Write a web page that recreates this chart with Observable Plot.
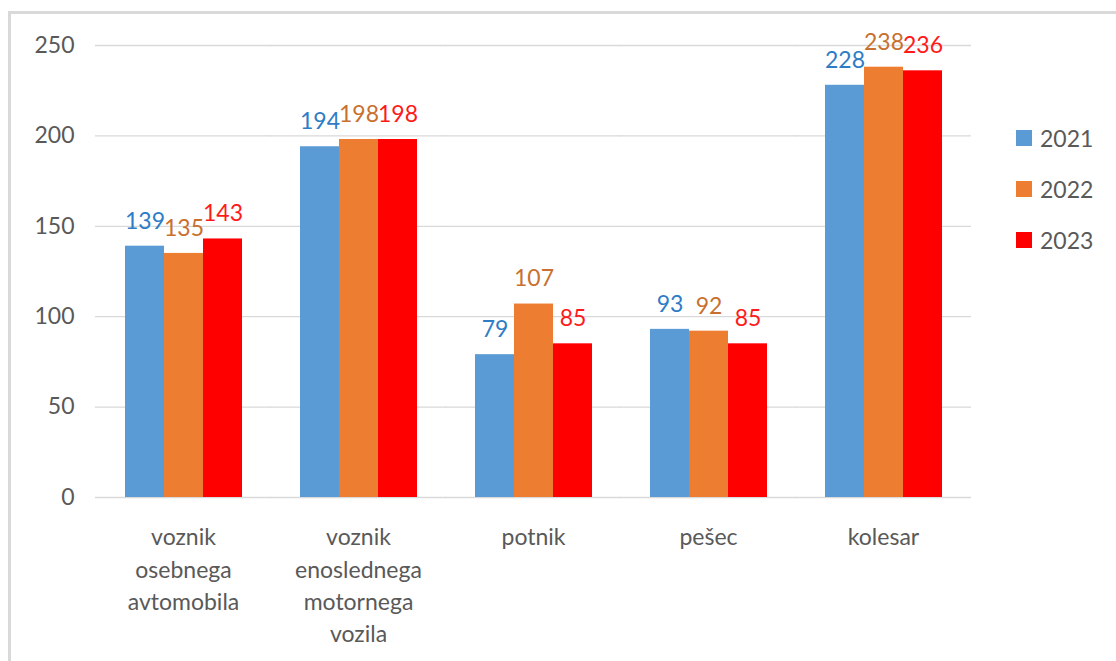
<!DOCTYPE html>
<html>
<head>
<meta charset="utf-8">
<script src="https://cdn.jsdelivr.net/npm/d3@7"></script>
<script src="https://cdn.jsdelivr.net/npm/@observablehq/plot@0.6"></script>
<style>
  html, body { margin: 0; padding: 0; background: #fff; }
  #wrap { position: relative; width: 1116px; height: 661px; overflow: hidden; font-family: Lato, sans-serif; }
  #border { position: absolute; left: 8px; top: 11px; width: 1200px; height: 700px;
            border-top: 3px solid #d9d9d9; border-left: 3px solid #d9d9d9; }
  #chart { position: absolute; left: 0; top: 0; }
  #legend { position: absolute; left: 1016px; top: 126px; }
  .item { display: flex; align-items: center; height: 51px; margin-top: 0; color: #595959; font-size: 23px; }
  .item span.sw { display: inline-block; width: 16px; height: 16px; margin-right: 8px; }
  .item { position: relative; top: -14px; }
</style>
</head>
<body>
<div id="wrap">
  <div id="border"></div>
  <div id="chart"></div>
  <div id="legend"></div>
</div>
<script>
const categories = ["voznik osebnega avtomobila", "voznik enoslednega motornega vozila", "potnik", "pešec", "kolesar"];
const categoryLabels = ["voznik\nosebnega\navtomobila", "voznik\nenoslednega\nmotornega\nvozila", "potnik", "pešec", "kolesar"];
const years = ["2021", "2022", "2023"];
const values2021 = [139, 194, 79, 93, 228];
const values2022 = [135, 198, 107, 92, 238];
const values2023 = [143, 198, 85, 85, 236];
const yTicks = [0, 50, 100, 150, 200, 250];

const barColors = ["#5b9bd5", "#ed7d31", "#ff0000"];
const labelColors = ["#2e7cc6", "#c8702f", "#ff1a1a"];

const series = [values2021, values2022, values2023];
const rows = [];
years.forEach((yr, j) => {
  categories.forEach((c, i) => rows.push({category: c, year: yr, value: series[j][i]}));
});
const labelOf = new Map(categories.map((c, i) => [c, categoryLabels[i]]));

const textMarks = years.map((yr, j) =>
  Plot.text(rows.filter(r => r.year === yr), {
    fx: "category", x: "year", y: "value", text: d => String(d.value),
    dy: -25, fill: labelColors[j], fontSize: 23
  })
);

const chart = Plot.plot({
  width: 1000,
  height: 661,
  marginLeft: 95,
  marginRight: 30,
  marginTop: 45,
  marginBottom: 164,
  style: {fontFamily: "Lato, sans-serif", fontSize: "23px", color: "#595959", background: "transparent"},
  fx: {domain: categories, paddingInner: 0.326, paddingOuter: 0.163, label: null},
  x: {domain: years, padding: 0, axis: null},
  y: {domain: [0, 250], axis: null},
  color: {domain: years, range: barColors},
  marks: [
    Plot.ruleY(yTicks, {stroke: "#d9d9d9", strokeWidth: 1.3, insetLeft: -29, insetRight: -29}),
    Plot.barY(rows, {fx: "category", x: "year", y: "value", fill: "year", inset: 0}),
    ...textMarks,
    Plot.axisY(yTicks, {tickSize: 0, tickPadding: 50, fill: "#595959", fontSize: 23, label: null}),
    Plot.axisFx({anchor: "bottom", tickSize: 0, tickPadding: 25, lineHeight: 1.4,
                 tickFormat: d => labelOf.get(d), fill: "#595959", fontSize: 23, label: null})
  ]
});
document.getElementById("chart").appendChild(chart);

const legend = document.getElementById("legend");
years.forEach((yr, j) => {
  const div = document.createElement("div");
  div.className = "item";
  const sw = document.createElement("span");
  sw.className = "sw";
  sw.style.background = barColors[j];
  div.appendChild(sw);
  div.appendChild(document.createTextNode(yr));
  legend.appendChild(div);
});
</script>
</body>
</html>
